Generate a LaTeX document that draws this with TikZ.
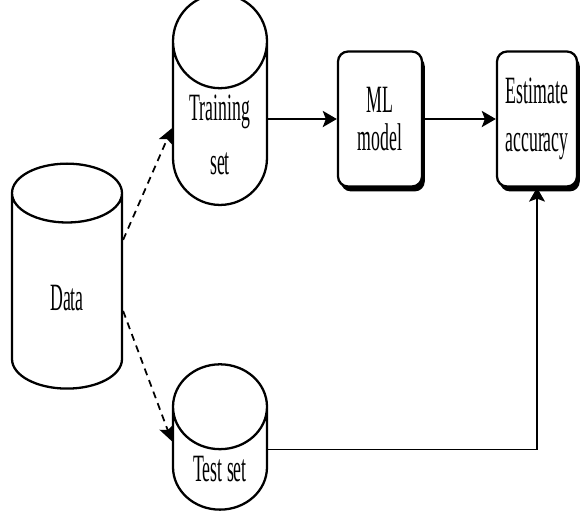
\documentclass[tikz,border=0pt]{standalone}
\usepackage{fontspec}
\setmainfont{Liberation Serif}[FakeStretch=0.46]
\usetikzlibrary{shapes.geometric,arrows.meta,shadows}

\begin{document}
\begin{tikzpicture}[x=0.02cm,y=-0.02cm,
 cyl/.style={draw,cylinder,shape border rotate=90,aspect=1.3,line width=1.3pt,fill=white,align=center,font=\fontsize{22}{22}\selectfont},
 box/.style={draw,rounded corners=0.2cm,line width=1.3pt,fill=white,align=center,font=\fontsize{22}{22}\selectfont,
   drop shadow={shadow xshift=1.6pt,shadow yshift=-2.8pt,fill=black,opacity=1}},
 solid arr/.style={-{Stealth[length=0.28cm,width=0.32cm,inset=0.06cm]},line width=1.5pt},
 dash arr/.style={-{Stealth[length=0.3cm,width=0.3cm,inset=0.06cm]},line width=1pt,dash pattern=on 4pt off 3pt}]
 \useasboundingbox (0,0) rectangle (581,515);
 \node[cyl,minimum width=2.2cm,minimum height=4.5cm] (data) at (67,298) {Data};
 \node[cyl,minimum width=1.88cm,minimum height=3.84cm] (train) at (220,135) {Training\\[0.3cm]set};
 \node[cyl,minimum width=1.88cm,minimum height=2.84cm] (test) at (220,469) {Test set};
 \node[box,minimum width=1.68cm,minimum height=2.7cm] (ml) at (380,119) {ML\\model};
 \node[box,minimum width=1.6cm,minimum height=2.7cm] (est) at (537,119) {Estimate\\[0.18cm]accuracy};
 \draw[dash arr] (data.46) -- (train.172);
 \draw[dash arr] (data.-13) -- (test.150);
 \draw[solid arr] (train.east |- ml.west) -- (ml.west);
 \draw[solid arr] (ml.east) -- (est.west);
 \draw[solid arr,line width=0.8pt] (test.22) -| (est.south);
\end{tikzpicture}
\end{document}
